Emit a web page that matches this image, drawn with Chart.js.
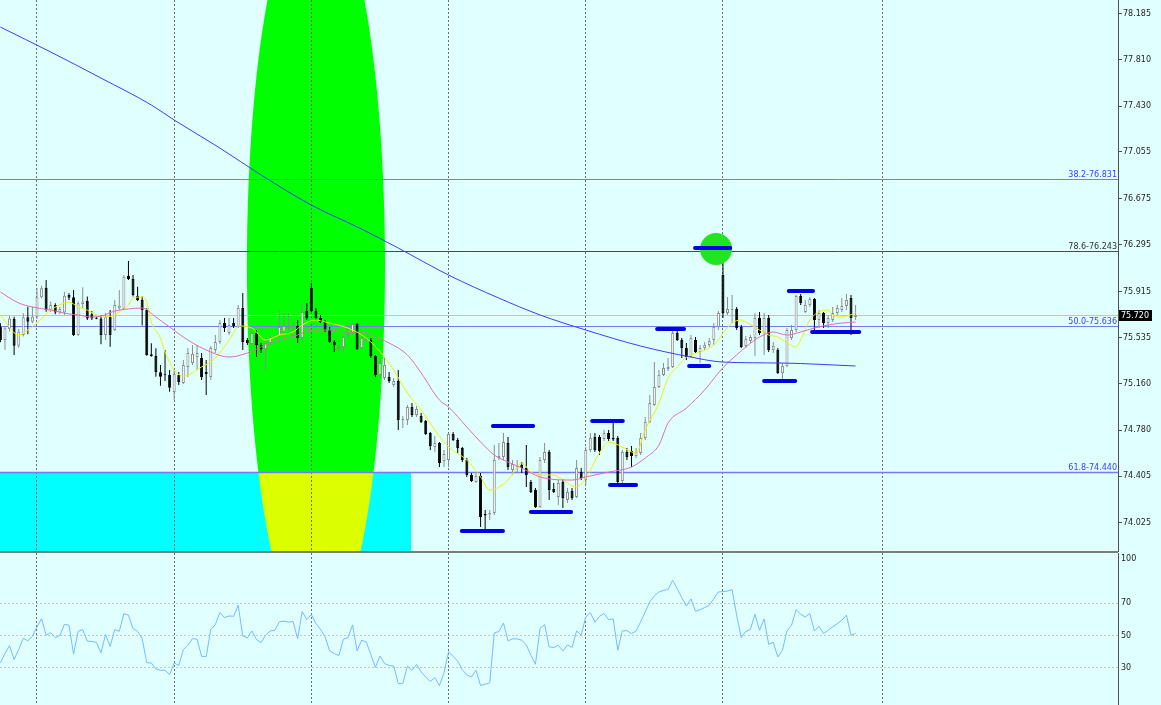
<!DOCTYPE html>
<html>
<head>
<meta charset="utf-8">
<script src="https://cdn.jsdelivr.net/npm/chart.js@4.4.0/dist/chart.umd.min.js"></script>
<style>
  html, body { margin: 0; padding: 0; background: #e0ffff; overflow: hidden; }
  #wrap { position: relative; width: 1161px; height: 705px; }
  #priceChart { position: absolute; left: 0; top: 0; }
  #rsiChart { position: absolute; left: 0; top: 553px; }
</style>
</head>
<body>
<div id="wrap">
  <canvas id="priceChart" width="1161" height="553"></canvas>
  <canvas id="rsiChart" width="1161" height="152"></canvas>
</div>
<script>
// ---- candles (bar index 0..187) ----
const opens = [
  75.627,75.518,75.608,75.690,75.472,75.559,75.704,75.668,75.709,75.867,
  75.946,75.764,75.804,75.744,75.744,75.886,75.867,75.559,75.813,75.837,
  75.728,75.701,75.695,75.559,75.709,75.600,75.777,75.772,76.041,76.017,
  75.881,75.845,75.764,75.401,75.388,75.254,75.238,75.232,75.093,75.232,
  75.167,75.298,75.330,75.379,75.371,75.257,75.216,75.436,75.502,75.657,
  75.575,75.657,75.624,75.780,75.518,75.486,75.575,75.477,75.445,75.494,
  75.539,75.551,75.584,75.616,75.624,75.633,75.535,75.755,75.943,75.755,
  75.698,75.665,75.600,75.502,75.445,75.461,75.559,75.575,75.649,75.453,
  75.518,75.518,75.387,75.232,75.208,75.216,75.150,75.183,74.864,74.864,
  74.971,74.905,74.897,74.856,74.758,74.644,74.676,74.529,74.537,74.750,
  74.701,74.636,74.537,74.415,74.358,74.407,74.096,74.092,74.104,74.554,
  74.562,74.676,74.456,74.480,74.497,74.472,74.358,74.292,74.153,74.537,
  74.603,74.300,74.235,74.358,74.211,74.284,74.235,74.439,74.374,74.619,
  74.725,74.725,74.709,74.758,74.717,74.717,74.366,74.603,74.611,74.570,
  74.595,74.717,74.848,74.987,75.134,75.232,75.281,75.298,75.575,75.518,
  75.453,75.379,75.518,75.420,75.453,75.477,75.518,75.624,76.049,75.739,
  75.763,75.772,75.624,75.469,75.510,75.535,75.698,75.575,75.698,75.436,
  75.436,75.249,75.306,75.535,75.600,75.878,75.747,75.804,75.853,75.682,
  75.739,75.657,75.682,75.739,75.763,75.796,75.861,75.706
];
const highs = [
  75.655,75.633,75.715,75.709,75.608,75.736,75.791,75.791,75.941,75.962,
  76.009,75.832,75.818,75.791,75.913,75.900,75.927,75.832,75.949,75.873,
  75.755,75.709,75.723,75.736,75.764,75.845,75.927,76.050,76.164,76.050,
  75.954,75.873,75.777,75.491,75.450,75.314,75.437,75.273,75.273,75.257,
  75.355,75.453,75.477,75.477,75.412,75.355,75.469,75.559,75.682,75.698,
  75.698,75.698,75.804,75.902,75.535,75.592,75.600,75.494,75.535,75.559,
  75.559,75.763,75.739,75.739,75.665,75.682,75.821,75.821,75.984,75.780,
  75.723,75.682,75.624,75.518,75.477,75.559,75.641,75.657,75.657,75.543,
  75.551,75.535,75.396,75.371,75.371,75.257,75.208,75.273,74.897,74.987,
  75.003,74.979,74.922,74.864,74.766,74.734,74.685,74.619,74.758,74.766,
  74.717,74.644,74.554,74.431,74.431,74.431,74.129,74.129,74.660,74.676,
  74.758,74.725,74.537,74.537,74.521,74.660,74.374,74.309,74.562,74.676,
  74.619,74.350,74.374,74.382,74.309,74.309,74.537,74.472,74.644,74.758,
  74.758,74.742,74.783,74.783,74.864,74.734,74.619,74.636,74.652,74.636,
  74.758,74.889,75.069,75.338,75.273,75.330,75.371,75.592,75.600,75.535,
  75.494,75.559,75.543,75.477,75.502,75.535,75.657,75.755,76.188,75.870,
  75.886,75.788,75.641,75.551,75.559,75.739,75.747,75.739,75.723,75.502,
  75.453,75.330,75.616,75.641,75.886,75.894,75.845,75.870,75.861,75.763,
  75.747,75.723,75.788,75.804,75.861,75.894,75.886,75.804
];
const lows = [
  75.499,75.437,75.587,75.396,75.456,75.546,75.565,75.655,75.690,75.859,
  75.750,75.750,75.728,75.728,75.723,75.845,75.551,75.554,75.777,75.682,
  75.682,75.687,75.483,75.518,75.464,75.592,75.764,75.764,76.009,75.873,
  75.837,75.636,75.390,75.382,75.219,75.145,75.183,75.096,75.028,75.150,
  75.159,75.216,75.314,75.273,75.191,75.069,75.191,75.412,75.486,75.584,
  75.559,75.616,75.616,75.436,75.477,75.477,75.379,75.412,75.273,75.477,
  75.535,75.543,75.575,75.584,75.543,75.494,75.502,75.682,75.747,75.682,
  75.657,75.584,75.494,75.420,75.420,75.412,75.543,75.567,75.436,75.445,
  75.502,75.371,75.216,75.208,75.191,75.167,75.134,74.783,74.799,74.823,
  74.889,74.889,74.840,74.742,74.619,74.603,74.480,74.480,74.480,74.693,
  74.595,74.521,74.399,74.358,74.350,73.990,73.965,74.047,74.088,74.537,
  74.537,74.456,74.415,74.439,74.431,74.317,74.268,74.145,74.145,74.513,
  74.211,74.268,74.170,74.145,74.186,74.211,74.227,74.374,74.333,74.603,
  74.603,74.578,74.693,74.693,74.693,74.341,74.350,74.537,74.480,74.554,
  74.578,74.701,74.840,74.979,75.126,75.224,75.265,75.289,75.510,75.371,
  75.355,75.371,75.412,75.330,75.436,75.461,75.477,75.600,75.698,75.723,
  75.657,75.600,75.453,75.453,75.494,75.387,75.559,75.396,75.420,75.412,
  75.240,75.167,75.298,75.518,75.584,75.804,75.739,75.788,75.600,75.616,
  75.616,75.616,75.665,75.723,75.747,75.763,75.559,75.682
];
const closes = [
  75.518,75.614,75.695,75.472,75.587,75.704,75.668,75.709,75.867,75.941,
  75.764,75.804,75.744,75.772,75.881,75.864,75.559,75.818,75.832,75.695,
  75.695,75.693,75.559,75.709,75.559,75.804,75.799,76.036,76.017,75.886,
  75.845,75.764,75.396,75.388,75.254,75.219,75.230,75.129,75.240,75.175,
  75.314,75.412,75.404,75.412,75.216,75.240,75.453,75.502,75.657,75.616,
  75.641,75.633,75.780,75.502,75.494,75.575,75.477,75.445,75.494,75.543,
  75.551,75.624,75.633,75.624,75.633,75.535,75.747,75.698,75.755,75.698,
  75.665,75.600,75.502,75.477,75.461,75.543,75.575,75.649,75.445,75.535,
  75.535,75.387,75.232,75.330,75.314,75.183,75.183,74.864,74.873,74.971,
  74.905,74.954,74.848,74.750,74.652,74.676,74.513,74.587,74.750,74.701,
  74.636,74.537,74.415,74.366,74.407,74.072,74.084,74.104,74.537,74.570,
  74.685,74.480,74.505,74.488,74.472,74.415,74.276,74.153,74.537,74.603,
  74.292,74.276,74.350,74.227,74.276,74.227,74.472,74.390,74.619,74.717,
  74.619,74.611,74.758,74.709,74.705,74.358,74.603,74.562,74.570,74.603,
  74.717,74.848,75.003,75.134,75.232,75.289,75.298,75.575,75.518,75.453,
  75.379,75.535,75.420,75.453,75.477,75.510,75.624,75.739,75.739,75.772,
  75.772,75.616,75.461,75.526,75.543,75.698,75.575,75.698,75.436,75.469,
  75.249,75.306,75.600,75.600,75.878,75.821,75.804,75.853,75.682,75.739,
  75.657,75.698,75.739,75.780,75.796,75.845,75.698,75.720
];

// ---- moving averages, read at these bar indexes ----
const fastIdx = [0,4,6,8,11,14,15,17,19,21,23,25,26,28,29,31,32,33,35,36,38,40,44,47,51,52,55,58,61,64,66,69,71,76,79,81,84,86,89,92,95,98,102,105,107,109,111,114,116,118,121,122,126,128,131,133,136,138,139,141,144,146,148,150,151,155,157,158,160,162,163,166,168,170,172,174,175,177,179,181,182,184,187];
const fastVal = [75.723,75.559,75.600,75.657,75.763,75.821,75.829,75.788,75.763,75.723,75.706,75.723,75.747,75.804,75.861,75.870,75.829,75.665,75.535,75.420,75.273,75.224,75.298,75.371,75.575,75.633,75.616,75.518,75.559,75.584,75.641,75.682,75.665,75.616,75.559,75.502,75.379,75.273,75.085,74.946,74.783,74.644,74.537,74.399,74.292,74.317,74.374,74.513,74.439,74.415,74.415,74.399,74.317,74.390,74.595,74.685,74.644,74.603,74.595,74.783,75.003,75.208,75.298,75.379,75.396,75.453,75.518,75.575,75.657,75.682,75.665,75.600,75.559,75.543,75.494,75.461,75.518,75.682,75.747,75.763,75.723,75.706,75.739];
const slowIdx = [0,4,7,11,15,17,20,22,25,28,31,34,37,41,46,50,54,59,65,68,72,75,79,82,85,89,92,96,98,102,105,108,111,114,118,125,128,133,138,141,144,146,150,154,157,159,161,163,166,169,172,175,178,181,184,187];
const slowVal = [75.910,75.821,75.788,75.763,75.731,75.723,75.706,75.714,75.755,75.772,75.780,75.706,75.624,75.518,75.420,75.379,75.412,75.494,75.559,75.600,75.600,75.584,75.584,75.543,75.494,75.396,75.249,75.028,74.971,74.807,74.685,74.578,74.521,74.472,74.399,74.374,74.399,74.439,74.480,74.554,74.660,74.840,74.962,75.110,75.249,75.330,75.396,75.461,75.543,75.584,75.559,75.584,75.616,75.641,75.657,75.665];
const longIdx = [0,11,22,33,38,48,57,68,79,87,98,109,118,128,140,151,158,171,187];
const longVal = [78.076,77.872,77.659,77.439,77.316,77.087,76.867,76.621,76.425,76.270,76.049,75.861,75.723,75.600,75.469,75.379,75.338,75.330,75.306];

// ---- RSI, one value per bar ----
const rsiVals = [
  33.1,38.9,43.8,35.2,41.3,48.3,46.7,49.5,55.3,60.4,
  50.2,51.8,48.7,50.0,56.9,56.3,38.5,52.6,53.6,46.5,
  46.3,45.8,39.3,50.6,43.2,53.6,52.6,63.5,62.5,54.3,
  52.6,48.1,33.3,33.1,29.4,28.6,28.6,25.9,33.1,31.5,
  41.3,44.0,48.1,47.7,37.2,37.0,53.6,56.7,64.1,61.0,
  62.0,61.8,68.6,49.7,48.5,52.8,47.5,45.6,50.2,52.8,
  53.2,58.4,58.8,58.2,58.6,48.1,64.7,59.8,62.9,57.3,
  53.8,49.1,40.5,38.9,37.6,47.7,48.7,56.5,40.5,47.1,
  46.0,38.3,30.3,37.4,32.7,31.5,31.3,20.4,20.4,31.1,
  28.6,32.1,27.6,24.5,21.6,24.1,19.2,27.0,39.9,37.2,
  34.2,29.0,25.7,24.5,28.6,19.2,20.0,20.8,51.6,52.4,
  57.7,46.7,47.9,47.9,47.1,44.2,37.8,32.3,54.3,56.7,
  43.0,42.6,44.0,40.5,44.2,42.6,52.8,50.2,61.4,64.1,
  58.2,61.8,63.5,59.8,60.2,40.9,52.8,53.0,51.2,52.8,
  58.4,64.5,70.7,74.4,76.8,77.8,78.3,84.0,78.9,73.3,
  68.2,72.5,64.9,65.9,67.2,68.6,72.7,76.8,77.0,77.4,
  78.3,62.5,48.7,52.6,53.6,63.1,53.2,60.2,44.6,45.8,
  36.8,40.9,52.8,56.3,65.9,63.1,61.4,63.5,52.8,55.7,
  51.2,53.2,55.3,57.3,59.4,62.5,50.2,51.2
];

// ---- axes ----
const priceTicks = [78.185, 77.810, 77.430, 77.055, 76.675, 76.295, 75.915, 75.535, 75.160, 74.780, 74.405, 74.025];
const rsiTicks = [70, 50, 30];
const gridBars = [8, 38, 68, 98, 128, 158, 192.8];

// ---- drawn objects ----
const fibNames = ['38.2', '78.6', '50.0', '61.8'];
const fibPrices = [76.831, 76.243, 75.636, 74.440];
const markFrom = [100.9, 107.7, 116.0, 129.4, 133.3, 143.6, 150.6, 151.9, 167.0, 172.4, 177.5];
const markTo = [109.9, 116.5, 124.8, 136.1, 139.0, 149.5, 155.0, 159.6, 173.8, 177.7, 187.8];
const markPrice = [73.957, 74.815, 74.113, 74.856, 74.333, 75.608, 75.306, 76.270, 75.183, 75.919, 75.584];
const zone = { bar: 69, price: 76.123, barR: 15.1, priceR: 3.052 };
const box = { toBar: 89.8, top: 74.440, bottom: 73.0 };
const spot = { bar: 156.5, price: 76.262, barR: 3.5 };

const BG = '#e0ffff';
const X_MIN = -0.0875, X_MAX = 244.385;

Chart.defaults.font.family = '"DejaVu Sans", sans-serif';
Chart.defaults.font.size = 8;

const bgPlugin = {
  id: 'bg',
  beforeDraw(chart) {
    const ctx = chart.ctx;
    ctx.save();
    ctx.fillStyle = BG;
    ctx.fillRect(0, 0, chart.width, chart.height);
    ctx.restore();
  }
};

function ellipsePath(ctx, x, y) {
  const cx = x.getPixelForValue(zone.bar), cy = y.getPixelForValue(zone.price);
  const rx = x.getPixelForValue(zone.bar + zone.barR) - cx;
  const ry = y.getPixelForValue(zone.price - zone.priceR) - cy;
  ctx.beginPath();
  ctx.ellipse(cx, cy, rx, ry, 0, 0, Math.PI * 2);
}

const zonesPlugin = {
  id: 'zones',
  beforeDraw(chart) {
    const { ctx, chartArea: a, scales: { x, y } } = chart;
    ctx.save();
    ctx.beginPath();
    ctx.rect(a.left, a.top, a.width, a.height);
    ctx.clip();
    ctx.fillStyle = '#00ff00';
    ellipsePath(ctx, x, y);
    ctx.fill();
    const rr = x.getPixelForValue(box.toBar);
    const rt = y.getPixelForValue(box.top);
    const rb = y.getPixelForValue(box.bottom);
    ctx.fillStyle = '#00ffff';
    ctx.fillRect(a.left, rt, rr - a.left, rb - rt);
    ctx.beginPath();
    ctx.rect(a.left, rt, rr - a.left, rb - rt);
    ctx.clip();
    ctx.fillStyle = '#dcff00';
    ellipsePath(ctx, x, y);
    ctx.fill();
    ctx.restore();
  }
};

const levelsPlugin = {
  id: 'levels',
  beforeDatasetsDraw(chart) {
    const { ctx, chartArea: a, scales: { y } } = chart;
    ctx.save();
    // last price line
    const ly = Math.round(y.getPixelForValue(closes[closes.length - 1])) + 0.5;
    ctx.strokeStyle = '#c4c4c4';
    ctx.lineWidth = 1;
    ctx.beginPath(); ctx.moveTo(a.left, ly); ctx.lineTo(a.right, ly); ctx.stroke();
    fibPrices.forEach((p, k) => {
      const py = Math.round(y.getPixelForValue(p)) + 0.5;
      ctx.strokeStyle = fibNames[k] === '78.6' ? '#4a4a4a' : '#7878ff';
      ctx.lineWidth = fibNames[k] === '61.8' ? 1.5 : 1;
      ctx.beginPath(); ctx.moveTo(a.left, py); ctx.lineTo(a.right, py); ctx.stroke();
    });
    ctx.restore();
  }
};

const marksPlugin = {
  id: 'marks',
  afterDatasetsDraw(chart) {
    const { ctx, scales: { x, y } } = chart;
    ctx.save();
    const cx = x.getPixelForValue(spot.bar), cy = y.getPixelForValue(spot.price);
    const r = x.getPixelForValue(spot.bar + spot.barR) - cx;
    ctx.fillStyle = '#22e422';
    ctx.beginPath(); ctx.arc(cx, cy, r, 0, Math.PI * 2); ctx.fill();
    ctx.strokeStyle = '#0000e6';
    ctx.lineWidth = 4;
    ctx.lineCap = 'round';
    markFrom.forEach((f, k) => {
      const py = y.getPixelForValue(markPrice[k]);
      ctx.beginPath();
      ctx.moveTo(x.getPixelForValue(f), py);
      ctx.lineTo(x.getPixelForValue(markTo[k]), py);
      ctx.stroke();
    });
    ctx.restore();
  }
};

const labelsPlugin = {
  id: 'labels',
  afterDraw(chart) {
    const { ctx, chartArea: a, scales: { y } } = chart;
    ctx.save();
    ctx.font = '8px "DejaVu Sans"';
    ctx.textAlign = 'right';
    ctx.textBaseline = 'alphabetic';
    fibPrices.forEach((p, k) => {
      const py = y.getPixelForValue(p);
      ctx.fillStyle = fibNames[k] === '78.6' ? '#303030' : '#3c3cff';
      ctx.fillText(fibNames[k] + '-' + p.toFixed(3), a.right - 1, py - 2);
    });
    const last = closes[closes.length - 1];
    const ly = Math.round(y.getPixelForValue(last));
    ctx.fillStyle = '#000';
    ctx.fillRect(a.right + 1, ly - 5, 33, 11);
    ctx.fillStyle = '#fff';
    ctx.textAlign = 'left';
    ctx.textBaseline = 'middle';
    ctx.fillText(last.toFixed(3), a.right + 3, ly + 0.5);
    ctx.fillStyle = '#7c7c7c';
    ctx.fillRect(a.left, a.bottom, a.width, 2);
    ctx.restore();
  }
};

// the side axis should not reserve room for half labels at the ends
function fitSide(s) {
  s.width = 43;
  s.paddingTop = 0;
  s.paddingBottom = 0;
}

const bull = closes.map((c, i) => c >= opens[i]);
const xAxis = {
  type: 'linear',
  min: X_MIN,
  max: X_MAX,
  offset: false,
  afterBuildTicks: (s) => { s.ticks = gridBars.map((v) => ({ value: v })); },
  afterFit: (s) => { s.height = 0; s.paddingLeft = 0; s.paddingRight = 0; },
  ticks: { display: false },
  grid: { color: '#6e6e6e', drawTicks: false, offset: false },
  border: { display: false, dash: [2, 2] }
};

new Chart(document.getElementById('priceChart'), {
  type: 'bar',
  data: {
    datasets: [
      {
        type: 'line', data: longIdx.map((v, k) => ({ x: v, y: longVal[k] })),
        borderColor: '#3d3dff', borderWidth: 1, pointRadius: 0,
        cubicInterpolationMode: 'monotone', order: 0
      },
      {
        type: 'line', data: slowIdx.map((v, k) => ({ x: v, y: slowVal[k] })),
        borderColor: '#dc6cc0', borderWidth: 1, pointRadius: 0,
        cubicInterpolationMode: 'monotone', order: 0
      },
      {
        type: 'line', data: fastIdx.map((v, k) => ({ x: v, y: fastVal[k] })),
        borderColor: '#f2f200', borderWidth: 1, pointRadius: 0,
        cubicInterpolationMode: 'monotone', order: 0
      },
      {
        type: 'bar', data: highs.map((h, i) => ({ x: i, y: [lows[i], h] })),
        backgroundColor: bull.map((b) => (b ? '#8c8c8c' : '#000000')),
        borderWidth: 0, barThickness: 1, grouped: false, inflateAmount: 0, order: 3
      },
      {
        type: 'bar', data: opens.map((o, i) => ({ x: i, y: [o, closes[i]] })),
        backgroundColor: bull.map((b) => (b ? '#ffffff' : '#000000')),
        borderColor: bull.map((b) => (b ? '#8c8c8c' : '#000000')),
        borderWidth: 1, borderSkipped: false, barThickness: 3, minBarLength: 1,
        grouped: false, inflateAmount: 0, order: 2
      }
    ]
  },
  options: {
    responsive: false,
    animation: false,
    events: [],
    layout: { padding: { left: 0, right: 0, top: 0, bottom: 2 } },
    plugins: { legend: { display: false }, tooltip: { enabled: false } },
    scales: {
      x: xAxis,
      y: {
        position: 'right',
        min: 73.794,
        max: 78.297,
        afterBuildTicks: (s) => { s.ticks = priceTicks.map((v) => ({ value: v })); },
        afterFit: fitSide,
        ticks: { autoSkip: false, padding: 1, color: '#1e1e1e', callback: (v) => Number(v).toFixed(3) },
        grid: { drawOnChartArea: false, drawTicks: true, tickLength: 4, color: '#505050' },
        border: { display: true, color: '#505050' }
      }
    }
  },
  plugins: [bgPlugin, zonesPlugin, levelsPlugin, marksPlugin, labelsPlugin]
});

new Chart(document.getElementById('rsiChart'), {
  type: 'line',
  data: {
    datasets: [{
      data: rsiVals.map((v, i) => ({ x: i, y: v })),
      borderColor: '#78baff', borderWidth: 1, pointRadius: 0, tension: 0
    }]
  },
  options: {
    responsive: false,
    animation: false,
    events: [],
    layout: { padding: 0 },
    plugins: { legend: { display: false }, tooltip: { enabled: false } },
    scales: {
      x: Object.assign({}, xAxis),
      y: {
        position: 'right',
        min: 7.2,
        max: 100.8,
        // the top label sits just inside the pane, as in the terminal
        afterBuildTicks: (s) => { s.ticks = [{ value: 97 }].concat(rsiTicks.map((v) => ({ value: v }))); },
        afterFit: fitSide,
        ticks: { autoSkip: false, padding: 3, color: '#1e1e1e', callback: (v) => (v > 90 ? '100' : String(v)) },
        grid: {
          drawTicks: false,
          color: (c) => (c.tick && c.tick.value > 90 ? 'rgba(0,0,0,0)' : '#c6c6c6')
        },
        border: { display: true, color: '#505050', dash: [2, 2] }
      }
    }
  },
  plugins: [bgPlugin]
});
</script>
</body>
</html>
